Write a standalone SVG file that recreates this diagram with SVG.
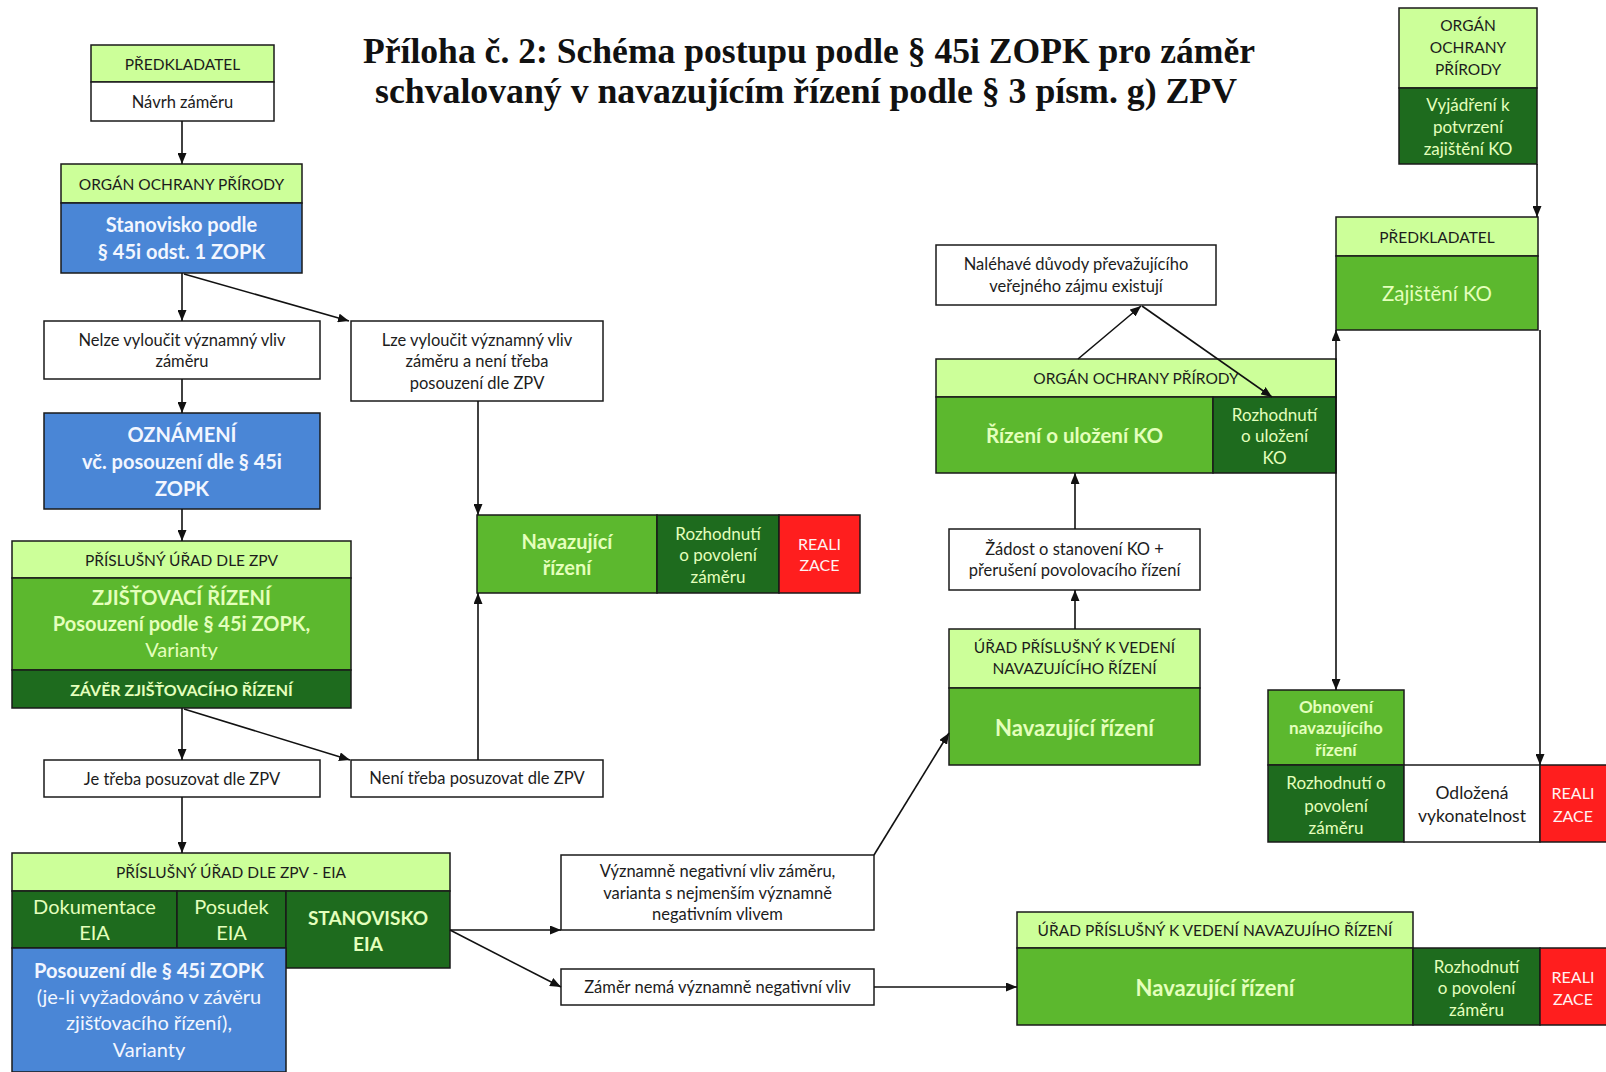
<svg xmlns="http://www.w3.org/2000/svg" width="1606" height="1072" viewBox="0 0 1606 1072">
  <defs>
    <marker id="ah" viewBox="0 0 11 9" refX="11" refY="4.5" markerWidth="11" markerHeight="9" markerUnits="userSpaceOnUse" orient="auto">
      <path d="M0,0 L11,4.5 L0,9 z" fill="#111"/>
    </marker>
    <style>
      .box rect { stroke: #1a1a1a; stroke-width: 1.5; }
      .hdr { fill: #CCFF99; }
      .mid { fill: #5CB82E; }
      .dk { fill: #1E6B1E; }
      .blue { fill: #4A86D6; }
      .red { fill: #FF1E1E; }
      .wh { fill: #FFFFFF; }
      text { font-family: Lato, "Liberation Sans", sans-serif; text-anchor: middle; dominant-baseline: central; }
      .h { fill: #1c1c1c; font-size: 15.5px; }
      .s { fill: #1c1c1c; font-size: 16.5px; }
      .lt { fill: #E4FFBC; }
      .wt { fill: #F2F6FF; }
      .rt { fill: #FFF2F2; font-size: 16px; }
      .sm { font-size: 17px; }
      .md { font-size: 20px; }
      .lg { font-size: 22px; }
      .bd { font-weight: bold; }
      .title { font-family: "Liberation Serif", "Times New Roman", serif; font-weight: bold; font-size: 35px; fill: #111; text-anchor: start; dominant-baseline: alphabetic; }
      .conn path { fill: none; stroke: #111; stroke-width: 1.6; marker-end: url(#ah); }
    </style>
  </defs>

  <rect x="0" y="0" width="1606" height="1072" fill="#FFFFFF"/>

  <!-- heading -->
  <g id="title">
    <text class="title" x="363" y="63" textLength="892" lengthAdjust="spacingAndGlyphs">Příloha č. 2: Schéma postupu podle § 45i ZOPK pro záměr</text>
    <text class="title" x="375" y="103" textLength="862" lengthAdjust="spacingAndGlyphs">schvalovaný v navazujícím řízení podle § 3 písm. g) ZPV</text>
  </g>

  <!-- left column -->
  <g id="n-predkladatel-1" class="box">
    <rect class="hdr" x="91" y="45" width="183" height="37"/>
    <rect class="wh" x="91" y="82" width="183" height="39"/>
    <text class="h" x="182.5" y="63.5">PŘEDKLADATEL</text>
    <text class="s" x="182.5" y="101.5">Návrh záměru</text>
  </g>

  <g id="n-organ-1" class="box">
    <rect class="hdr" x="61" y="164" width="241" height="39"/>
    <rect class="blue" x="61" y="203" width="241" height="70"/>
    <text class="h" x="181.5" y="183.5">ORGÁN OCHRANY PŘÍRODY</text>
    <text class="wt md bd" x="181.5" y="224">Stanovisko podle</text>
    <text class="wt md bd" x="181.5" y="251">§ 45i odst. 1 ZOPK</text>
  </g>

  <g id="n-nelze" class="box">
    <rect class="wh" x="44" y="321" width="276" height="58"/>
    <text class="s" x="182" y="339.5">Nelze vyloučit významný vliv</text>
    <text class="s" x="182" y="360.5">záměru</text>
  </g>

  <g id="n-lze" class="box">
    <rect class="wh" x="351" y="321" width="252" height="80"/>
    <text class="s" x="477" y="339.5">Lze vyloučit významný vliv</text>
    <text class="s" x="477" y="361">záměru a není třeba</text>
    <text class="s" x="477" y="382.5">posouzení dle ZPV</text>
  </g>

  <g id="n-oznameni" class="box">
    <rect class="blue" x="44" y="413" width="276" height="96"/>
    <text class="wt md bd" x="182" y="434">OZNÁMENÍ</text>
    <text class="wt md bd" x="182" y="461">vč. posouzení dle § 45i</text>
    <text class="wt md bd" x="182" y="488">ZOPK</text>
  </g>

  <g id="n-zjistovaci" class="box">
    <rect class="hdr" x="12" y="541" width="339" height="37"/>
    <rect class="mid" x="12" y="578" width="339" height="92"/>
    <rect class="dk" x="12" y="670" width="339" height="38"/>
    <text class="h" x="181.5" y="559.5">PŘÍSLUŠNÝ ÚŘAD DLE ZPV</text>
    <text class="lt md bd" x="181.5" y="597">ZJIŠŤOVACÍ ŘÍZENÍ</text>
    <text class="lt md bd" x="181.5" y="623">Posouzení podle § 45i ZOPK,</text>
    <text class="lt md" x="181.5" y="649">Varianty</text>
    <text class="lt bd" x="181.5" y="689" style="font-size:16px">ZÁVĚR ZJIŠŤOVACÍHO ŘÍZENÍ</text>
  </g>

  <g id="n-je-treba" class="box">
    <rect class="wh" x="44" y="760" width="276" height="37"/>
    <text class="s" x="182" y="778.5">Je třeba posuzovat dle ZPV</text>
  </g>

  <g id="n-neni-treba" class="box">
    <rect class="wh" x="351" y="760" width="252" height="37"/>
    <text class="s" x="477" y="778">Není třeba posuzovat dle ZPV</text>
  </g>

  <g id="n-navazujici-1" class="box">
    <rect class="mid" x="477" y="515" width="180" height="78"/>
    <rect class="dk" x="657" y="515" width="122" height="78"/>
    <rect class="red" x="779" y="515" width="81" height="78"/>
    <text class="lt md bd" x="567" y="541">Navazující</text>
    <text class="lt md bd" x="567" y="567">řízení</text>
    <text class="lt sm" x="718" y="533">Rozhodnutí</text>
    <text class="lt sm" x="718" y="554">o povolení</text>
    <text class="lt sm" x="718" y="576">záměru</text>
    <text class="rt" x="819.5" y="543">REALI</text>
    <text class="rt" x="819.5" y="564">ZACE</text>
  </g>

  <g id="n-eia" class="box">
    <rect class="hdr" x="12" y="853" width="438" height="38"/>
    <rect class="dk" x="12" y="891" width="165" height="57"/>
    <rect class="dk" x="177" y="891" width="109" height="57"/>
    <rect class="dk" x="286" y="891" width="164" height="77"/>
    <rect class="blue" x="12" y="948" width="274" height="124"/>
    <text class="h" x="231" y="872">PŘÍSLUŠNÝ ÚŘAD DLE ZPV - EIA</text>
    <text class="lt md" x="94.5" y="906">Dokumentace</text>
    <text class="lt md" x="94.5" y="932">EIA</text>
    <text class="lt md" x="231.5" y="906">Posudek</text>
    <text class="lt md" x="231.5" y="932">EIA</text>
    <text class="lt bd" x="368" y="917" style="font-size:19px">STANOVISKO</text>
    <text class="lt bd" x="368" y="943" style="font-size:19px">EIA</text>
    <text class="wt md bd" x="149" y="970">Posouzení dle § 45i ZOPK</text>
    <text class="wt md" x="149" y="996">(je-li vyžadováno v závěru</text>
    <text class="wt md" x="149" y="1022">zjišťovacího řízení),</text>
    <text class="wt md" x="149" y="1049">Varianty</text>
  </g>

  <g id="n-vyznamne" class="box">
    <rect class="wh" x="561" y="855" width="313" height="75"/>
    <text class="s" x="717.5" y="871">Významně negativní vliv záměru,</text>
    <text class="s" x="717.5" y="892.5">varianta s nejmenším významně</text>
    <text class="s" x="717.5" y="914">negativním vlivem</text>
  </g>

  <g id="n-zamer-nema" class="box">
    <rect class="wh" x="561" y="969" width="313" height="36"/>
    <text class="s" x="717.5" y="987">Záměr nemá významně negativní vliv</text>
  </g>

  <!-- right part -->
  <g id="n-navazujici-3" class="box">
    <rect class="hdr" x="1017" y="912" width="396" height="36"/>
    <rect class="mid" x="1017" y="948" width="396" height="77"/>
    <rect class="dk" x="1413" y="948" width="127" height="77"/>
    <rect class="red" x="1540" y="948" width="70" height="77"/>
    <text class="h" x="1215" y="930">ÚŘAD PŘÍSLUŠNÝ K VEDENÍ NAVAZUJÍHO ŘÍZENÍ</text>
    <text class="lt lg bd" x="1215" y="987">Navazující řízení</text>
    <text class="lt sm" x="1476.5" y="966">Rozhodnutí</text>
    <text class="lt sm" x="1476.5" y="987">o povolení</text>
    <text class="lt sm" x="1476.5" y="1009">záměru</text>
    <text class="rt" x="1573" y="976">REALI</text>
    <text class="rt" x="1573" y="998">ZACE</text>
  </g>

  <g id="n-urad-navazujici" class="box">
    <rect class="hdr" x="949" y="629" width="251" height="59"/>
    <rect class="mid" x="949" y="688" width="251" height="77"/>
    <text class="h" x="1074.5" y="647">ÚŘAD PŘÍSLUŠNÝ K VEDENÍ</text>
    <text class="h" x="1074.5" y="668">NAVAZUJÍCÍHO ŘÍZENÍ</text>
    <text class="lt lg bd" x="1074.5" y="727">Navazující řízení</text>
  </g>

  <g id="n-zadost" class="box">
    <rect class="wh" x="949" y="529" width="251" height="61"/>
    <text class="s" x="1074.5" y="548.5">Žádost o stanovení KO +</text>
    <text class="s" x="1074.5" y="570">přerušení povolovacího řízení</text>
  </g>

  <g id="n-organ-ko" class="box">
    <rect class="hdr" x="936" y="359" width="400" height="38"/>
    <rect class="mid" x="936" y="397" width="277" height="76"/>
    <rect class="dk" x="1213" y="397" width="123" height="76"/>
    <text class="h" x="1136" y="378">ORGÁN OCHRANY PŘÍRODY</text>
    <text class="lt bd" x="1074.5" y="435" style="font-size:20.5px">Řízení o uložení KO</text>
    <text class="lt sm" x="1274.5" y="414">Rozhodnutí</text>
    <text class="lt sm" x="1274.5" y="435">o uložení</text>
    <text class="lt sm" x="1274.5" y="457">KO</text>
  </g>

  <g id="n-nalehave" class="box">
    <rect class="wh" x="936" y="245" width="280" height="60"/>
    <text class="s" x="1076" y="264">Naléhavé důvody převažujícího</text>
    <text class="s" x="1076" y="285.5">veřejného zájmu existují</text>
  </g>

  <g id="n-organ-top" class="box">
    <rect class="hdr" x="1399" y="8" width="138" height="80"/>
    <rect class="dk" x="1399" y="88" width="138" height="76"/>
    <text class="h" x="1468" y="25">ORGÁN</text>
    <text class="h" x="1468" y="46.5">OCHRANY</text>
    <text class="h" x="1468" y="68.5">PŘÍRODY</text>
    <text class="lt sm" x="1468" y="104.5">Vyjádření k</text>
    <text class="lt sm" x="1468" y="126">potvrzení</text>
    <text class="lt sm" x="1468" y="148">zajištění KO</text>
  </g>

  <g id="n-predkladatel-2" class="box">
    <rect class="hdr" x="1336" y="217" width="202" height="39"/>
    <rect class="mid" x="1336" y="256" width="202" height="74"/>
    <text class="h" x="1437" y="236.5">PŘEDKLADATEL</text>
    <text class="lt" x="1437" y="293" style="font-size:20.5px">Zajištění KO</text>
  </g>

  <g id="n-obnoveni" class="box">
    <rect class="mid" x="1268" y="690" width="136" height="75"/>
    <rect class="dk" x="1268" y="765" width="136" height="77"/>
    <rect class="wh" x="1404" y="765" width="136" height="77"/>
    <rect class="red" x="1540" y="765" width="70" height="77"/>
    <text class="lt sm bd" x="1336" y="706">Obnovení</text>
    <text class="lt sm bd" x="1336" y="727.5">navazujícího</text>
    <text class="lt sm bd" x="1336" y="749">řízení</text>
    <text class="lt sm" x="1336" y="782">Rozhodnutí o</text>
    <text class="lt sm" x="1336" y="805">povolení</text>
    <text class="lt sm" x="1336" y="827">záměru</text>
    <text class="s" x="1472" y="792" style="font-size:17.5px">Odložená</text>
    <text class="s" x="1472" y="815" style="font-size:17.5px">vykonatelnost</text>
    <text class="rt" x="1573" y="792">REALI</text>
    <text class="rt" x="1573" y="815">ZACE</text>
  </g>

  <!-- connectors -->
  <g id="connectors" class="conn">
    <path d="M182,121 L182,164"/>
    <path d="M182,273 L182,321"/>
    <path d="M184,274 L349,321"/>
    <path d="M182,379 L182,413"/>
    <path d="M182,509 L182,541"/>
    <path d="M182,708 L182,760"/>
    <path d="M184,709 L350,760"/>
    <path d="M478,401 L478,515"/>
    <path d="M478,760 L478,593"/>
    <path d="M182,797 L182,853"/>
    <path d="M450,930 L561,930"/>
    <path d="M450,930 L561,987"/>
    <path d="M874,855 L949,733"/>
    <path d="M874,987 L1017,987"/>
    <path d="M1075,629 L1075,590"/>
    <path d="M1075,529 L1075,473"/>
    <path d="M1078,359 L1141,306"/>
    <path d="M1142,306 L1272,397"/>
    <path d="M1537,164 L1537,217"/>
    <path d="M1336,473 L1336,330"/>
    <path d="M1336,473 L1336,690"/>
    <path d="M1540,330 L1540,765"/>
  </g>
</svg>
